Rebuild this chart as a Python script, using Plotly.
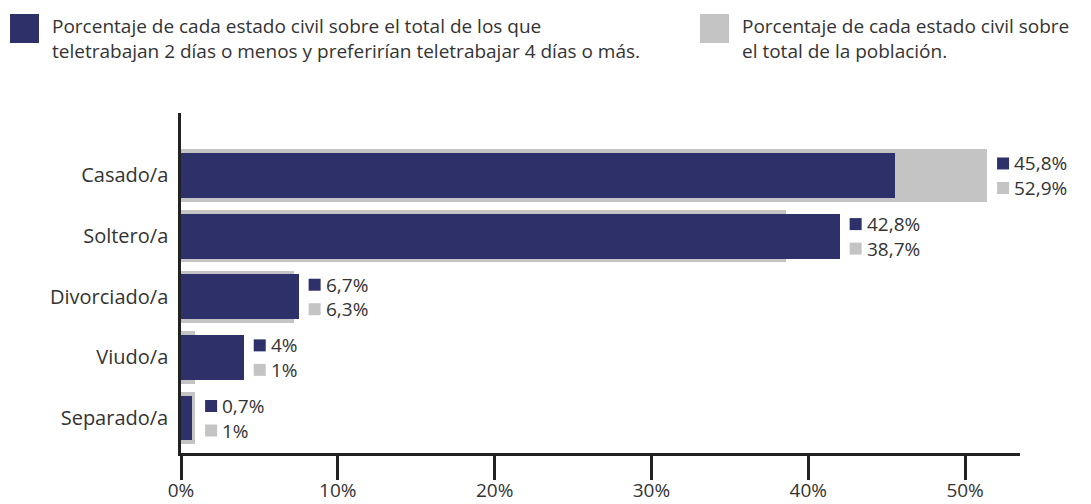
import plotly.graph_objects as go

categories = ["Casado/a", "Soltero/a", "Divorciado/a", "Viudo/a", "Separado/a"]
# bar lengths as drawn in the picture (%)
teletrabajo_vals = [45.5, 42.0, 7.5, 4.0, 0.7]
poblacion_vals = [51.4, 38.6, 7.2, 0.9, 0.9]
# value labels as printed
teletrabajo_labels = ["45,8%", "42,8%", "6,7%", "4%", "0,7%"]
poblacion_labels = ["52,9%", "38,7%", "6,3%", "1%", "1%"]
x_ticks = [0, 10, 20, 30, 40, 50]
x_ticktext = ["0%", "10%", "20%", "30%", "40%", "50%"]
legend_blue = ["Porcentaje de cada estado civil sobre el total de los que",
               "teletrabajan 2 días o menos y preferirían teletrabajar 4 días o más."]
legend_gray = ["Porcentaje de cada estado civil sobre",
               "el total de la población."]

BLUE = "#2e3169"
GRAY = "#c4c4c4"
TXT = "#333333"
AX = "#222222"
FONT = "Open Sans"

fig = go.Figure()
fig.add_trace(go.Bar(y=categories, x=poblacion_vals, orientation="h",
                     marker=dict(color=GRAY, line=dict(width=0)), width=0.865,
                     hoverinfo="skip", showlegend=False))
fig.add_trace(go.Bar(y=categories, x=teletrabajo_vals, orientation="h",
                     marker=dict(color=BLUE, line=dict(width=0)), width=0.74,
                     hoverinfo="skip", showlegend=False))

shapes = []
annotations = []
for i, cat in enumerate(categories):
    xm = max(teletrabajo_vals[i], poblacion_vals[i])
    for col, lab, py in ((BLUE, teletrabajo_labels[i], 12), (GRAY, poblacion_labels[i], -12.5)):
        shapes.append(dict(type="rect", xref="x", yref="y", xsizemode="pixel", ysizemode="pixel",
                           xanchor=xm, yanchor=i, x0=10, x1=22, y0=py - 6, y1=py + 6,
                           fillcolor=col, line=dict(width=0)))
        annotations.append(dict(x=xm, y=i, xref="x", yref="y", text=lab, showarrow=False,
                                xanchor="left", yanchor="middle", xshift=25, yshift=py,
                                font=dict(family=FONT, size=19, color=TXT)))

# legend
W, H = 839, 340
L, T = 181, 113
def px(xp):
    return (xp - L) / W
def py_(yp):
    return 1 - (yp - T) / H

for col, x0, lines, tx in ((BLUE, 10, legend_blue, 50), (GRAY, 700, legend_gray, 740)):
    shapes.append(dict(type="rect", xref="paper", yref="paper",
                       x0=px(x0), x1=px(x0 + 29), y0=py_(14), y1=py_(43),
                       fillcolor=col, line=dict(width=0)))
    for j, line in enumerate(lines):
        annotations.append(dict(x=px(tx), y=py_(26 + 25 * j), xref="paper", yref="paper",
                                text=line, showarrow=False, xanchor="left", yanchor="middle",
                                font=dict(family=FONT, size=19, color=TXT)))

fig.update_layout(
    width=1091, height=504,
    margin=dict(l=L, r=1091 - L - W, t=T, b=504 - T - H, autoexpand=False),
    paper_bgcolor="white", plot_bgcolor="white",
    barmode="overlay", bargap=0,
    shapes=shapes, annotations=annotations,
    font=dict(family=FONT, color=TXT),
    xaxis=dict(range=[0, 53.5], tickvals=x_ticks, ticktext=x_ticktext, automargin=False,
               showgrid=False, zeroline=False, showline=True, linecolor=AX, linewidth=2.5,
               ticks="outside", ticklen=24, tickwidth=2.5, tickcolor=AX, ticklabelstandoff=-6,
               tickfont=dict(family=FONT, size=19, color=TXT), fixedrange=True),
    yaxis=dict(type="category", categoryorder="array", categoryarray=categories, automargin=False,
               range=[4.577, -1.03], showgrid=False, zeroline=False,
               showline=True, linecolor=AX, linewidth=2.5,
               ticks="outside", ticklen=6, tickcolor="rgba(0,0,0,0)",
               tickfont=dict(family=FONT, size=20, color=TXT), fixedrange=True),
)

fig.write_html("out.html", config={"displayModeBar": False},
               post_script="document.body.style.margin='0';document.body.style.overflow='hidden';")
